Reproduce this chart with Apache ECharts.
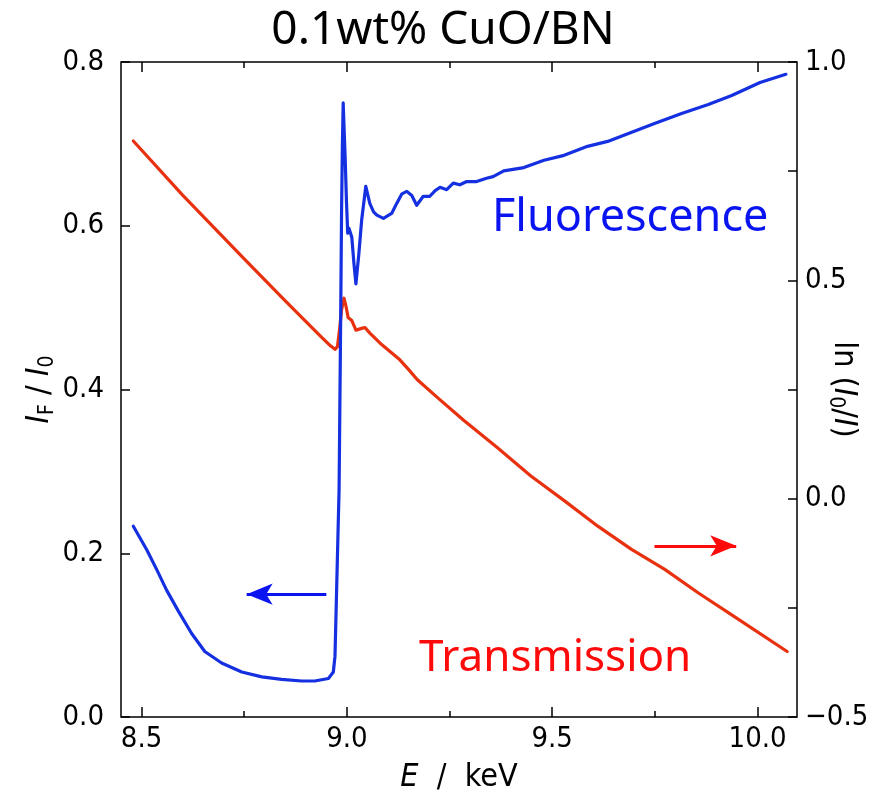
<!DOCTYPE html>
<html>
<head>
<meta charset="utf-8">
<script src="https://cdn.jsdelivr.net/npm/echarts@6/dist/echarts.min.js"></script>
<style>
  html, body { margin: 0; padding: 0; background: #fff; }
  #chart { width: 886px; height: 798px; }
</style>
</head>
<body>
<div id="chart"></div>
<script>
// Cu K-edge XAFS of 0.1wt% CuO/BN: fluorescence yield (left axis) and transmission (right axis)

// Fluorescence, I_F / I_0
const fluoEnergy = [
  8.480, 8.513, 8.537, 8.561, 8.590, 8.622, 8.654, 8.695, 8.744, 8.793,
  8.841, 8.890, 8.922, 8.955, 8.967, 8.971, 8.975, 8.979, 8.981, 8.985,
  8.987, 8.989, 8.991, 8.996, 8.999, 9.002, 9.005, 9.008, 9.012, 9.017,
  9.022, 9.029, 9.036, 9.046, 9.056, 9.065, 9.073, 9.089, 9.109, 9.121,
  9.134, 9.146, 9.158, 9.170, 9.186, 9.202, 9.215, 9.227, 9.243, 9.259,
  9.275, 9.292, 9.316, 9.340, 9.356, 9.382, 9.431, 9.480, 9.529, 9.586,
  9.635, 9.692, 9.749, 9.815, 9.880, 9.937, 10.006, 10.069
];
const fluoValue = [
  0.233, 0.204, 0.180, 0.155, 0.129, 0.102, 0.080, 0.066, 0.055, 0.049,
  0.046, 0.044, 0.044, 0.047, 0.055, 0.074, 0.155, 0.237, 0.277, 0.493,
  0.615, 0.696, 0.750, 0.680, 0.630, 0.591, 0.597, 0.599, 0.586, 0.555,
  0.529, 0.565, 0.607, 0.648, 0.627, 0.617, 0.613, 0.609, 0.615, 0.627,
  0.639, 0.642, 0.637, 0.625, 0.636, 0.636, 0.643, 0.647, 0.644, 0.652,
  0.650, 0.654, 0.654, 0.658, 0.660, 0.667, 0.671, 0.680, 0.686, 0.697,
  0.703, 0.714, 0.725, 0.737, 0.748, 0.759, 0.775, 0.785
];

// Transmission, ln(I_0 / I)
const transEnergy = [
  8.480, 8.600, 8.750, 8.850, 8.935, 8.960, 8.971, 8.977, 8.982, 8.987,
  8.993, 8.998, 9.003, 9.012, 9.022, 9.036, 9.044, 9.056, 9.081, 9.105,
  9.129, 9.150, 9.171, 9.220, 9.285, 9.366, 9.448, 9.530, 9.611, 9.693,
  9.774, 9.856, 9.937, 10.072
];
const transValue = [
  0.819, 0.695, 0.549, 0.453, 0.373, 0.350, 0.342, 0.348, 0.386, 0.432,
  0.459, 0.440, 0.415, 0.408, 0.386, 0.390, 0.392, 0.379, 0.356, 0.337,
  0.318, 0.296, 0.273, 0.232, 0.179, 0.117, 0.052, -0.005, -0.063, -0.116,
  -0.162, -0.216, -0.266, -0.350
];

// Axis ticks
const energyMajorTicks = [8.5, 9.0, 9.5, 10.0];
const energyMinorTicks = [8.75, 9.25, 9.75];
const rightLabelTicks = [-0.5, 0.0, 0.5, 1.0];

// Direction arrows: [startEnergy, endEnergy, level]
const fluoArrow = [8.950, 8.756, 0.150];
const transArrow = [9.749, 9.948, -0.108];

const E_MIN = 8.45, E_MAX = 10.096;

const BLUE = '#1530e0';
const RED = '#e8320f';
const AXIS_FONT = "'DejaVu Sans Condensed', 'Liberation Sans', sans-serif";
const TEXT_FONT = "'Noto Sans', 'Open Sans', sans-serif";

const zip = (xs, ys) => xs.map((x, i) => [x, ys[i]]);
const fmt1 = v => (v < 0 ? '\u2212' + Math.abs(v).toFixed(1) : v.toFixed(1));

const nameRich = {
  i: { fontFamily: AXIS_FONT, fontSize: 32, fontStyle: 'italic', color: '#000', lineHeight: 36 },
  n: { fontFamily: AXIS_FONT, fontSize: 32, color: '#000', lineHeight: 36 },
  s: { fontFamily: AXIS_FONT, fontSize: 21, color: '#000', lineHeight: 14, verticalAlign: 'bottom' }
};

function energyAxis(position, ticks, tickLen, withLabels) {
  return {
    type: 'value',
    position: position,
    min: E_MIN,
    max: E_MAX,
    axisLine: { show: false, onZero: false },
    splitLine: { show: false },
    axisTick: {
      show: true, inside: true, length: tickLen, customValues: ticks,
      lineStyle: { color: '#000', width: 1.5 }
    },
    axisLabel: withLabels ? {
      show: true, customValues: ticks, formatter: v => fmt1(v),
      fontFamily: AXIS_FONT, fontSize: 29, color: '#000', margin: 8
    } : { show: false }
  };
}

const bottomAxis = energyAxis('bottom', energyMajorTicks, 10, true);
bottomAxis.name = '{i|E}{n|  /  keV}';
bottomAxis.nameLocation = 'middle';
bottomAxis.nameGap = 43;
bottomAxis.nameMoveOverlap = false;
bottomAxis.nameTextStyle = { rich: nameRich };

const chart = echarts.init(document.getElementById('chart'), null, { renderer: 'canvas' });

chart.setOption({
  animation: false,
  backgroundColor: '#fff',
  title: {
    text: '0.1wt% CuO/BN',
    left: 'center',
    top: 3,
    textStyle: { fontFamily: TEXT_FONT, fontSize: 46, fontWeight: 'normal', color: '#000' }
  },
  grid: {
    left: 121, right: 89, top: 62, bottom: 81,
    outerBoundsMode: 'none', containLabel: false,
    show: true, borderColor: '#000', borderWidth: 1.5, backgroundColor: 'transparent'
  },
  xAxis: [
    bottomAxis,
    energyAxis('bottom', energyMinorTicks, 6, false),
    energyAxis('top', energyMajorTicks, 10, false),
    energyAxis('top', energyMinorTicks, 6, false)
  ],
  yAxis: [
    {
      type: 'value', position: 'left', min: 0, max: 0.8, interval: 0.2,
      axisLine: { show: false, onZero: false }, splitLine: { show: false },
      axisTick: { show: true, inside: true, length: 9, lineStyle: { color: '#000', width: 1.5 } },
      axisLabel: { formatter: v => fmt1(v), fontFamily: AXIS_FONT, fontSize: 29, color: '#000', margin: 17,
                   showMinLabel: true, showMaxLabel: true },
      name: '{i|I}{s|F}{n| / }{i|I}{s|0}',
      nameLocation: 'middle', nameRotate: 90, nameGap: 63, nameMoveOverlap: false,
      nameTextStyle: { rich: nameRich }
    },
    {
      type: 'value', position: 'right', min: -0.5, max: 1.0, interval: 0.25,
      axisLine: { show: false, onZero: false }, splitLine: { show: false },
      axisTick: { show: true, inside: true, length: 9, lineStyle: { color: '#000', width: 1.5 } },
      axisLabel: { customValues: rightLabelTicks, formatter: v => fmt1(v),
                   fontFamily: AXIS_FONT, fontSize: 29, color: '#000', margin: 8,
                   showMinLabel: true, showMaxLabel: true },
      name: '{n|ln (}{i|I}{s|0}{n|/}{i|I}{n|)}',
      nameLocation: 'middle', nameRotate: -90, nameGap: 28, nameMoveOverlap: false,
      nameTextStyle: { rich: nameRich }
    }
  ],
  series: [
    {
      name: 'Fluorescence', type: 'line', xAxisIndex: 0, yAxisIndex: 0,
      data: zip(fluoEnergy, fluoValue), showSymbol: false, smooth: false,
      lineStyle: { color: BLUE, width: 3.2, join: 'round', cap: 'round' }, z: 3,
      markLine: {
        silent: true, symbol: ['none', 'arrow'], symbolSize: [16, 26],
        lineStyle: { color: '#0a14f0', width: 3, type: 'solid' }, label: { show: false },
        data: [[{ coord: [fluoArrow[0], fluoArrow[2]] }, { coord: [fluoArrow[1], fluoArrow[2]] }]]
      }
    },
    {
      name: 'Transmission', type: 'line', xAxisIndex: 0, yAxisIndex: 1,
      data: zip(transEnergy, transValue), showSymbol: false, smooth: false,
      lineStyle: { color: RED, width: 3.2, join: 'round', cap: 'round' }, z: 2,
      markLine: {
        silent: true, symbol: ['none', 'arrow'], symbolSize: [16, 26],
        lineStyle: { color: '#ff0a0a', width: 3, type: 'solid' }, label: { show: false },
        data: [[{ coord: [transArrow[0], transArrow[2]] }, { coord: [transArrow[1], transArrow[2]] }]]
      }
    }
  ],
  graphic: [
    {
      type: 'text', left: 492, top: 196,
      style: { text: 'Fluorescence', fontFamily: TEXT_FONT, fontSize: 45, fill: '#0a14f0' }
    },
    {
      type: 'text', left: 419, top: 636,
      style: { text: 'Transmission', fontFamily: TEXT_FONT, fontSize: 44, fill: '#ff0a0a' }
    }
  ]
});
</script>
</body>
</html>
